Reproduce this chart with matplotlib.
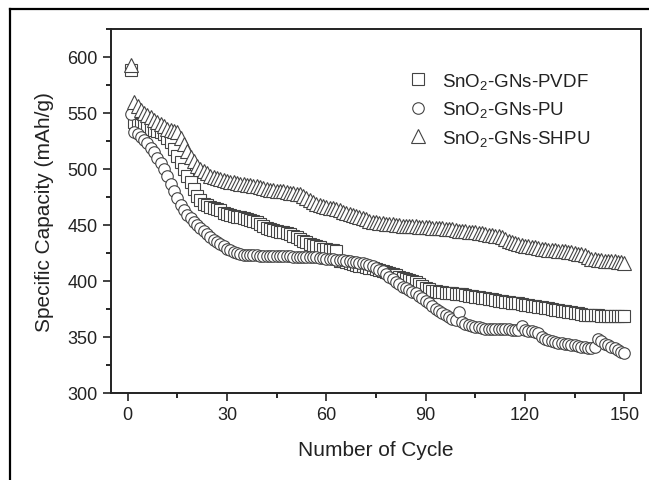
import matplotlib
matplotlib.use("Agg")
import matplotlib.pyplot as plt
from matplotlib.lines import Line2D
from matplotlib.ticker import MultipleLocator

plt.rcParams['font.family'] = ['Liberation Sans', 'DejaVu Sans']
plt.rcParams['mathtext.fontset'] = 'custom'
plt.rcParams['mathtext.rm'] = 'Liberation Sans'
plt.rcParams['mathtext.default'] = 'regular'

cycles = list(range(1, 151))

pvdf = [588, 542, 540, 539, 538, 537, 536, 535, 534, 533,
        531, 528, 524, 518, 512, 506, 500, 494, 488, 482,
        476, 472, 469, 467.5, 466.5, 465.5, 464.5, 463, 461, 459.5,
        458.5, 458, 457.5, 457, 456, 455, 454.5, 454, 453, 451,
        449, 447.5, 446.5, 445.5, 445, 444, 443.5, 443, 442, 440.5,
        439, 437.5, 436, 434.5, 433, 432, 431, 430, 429, 428.5,
        428, 427.5, 427, 418, 417.5, 417, 416, 415, 414, 413.5,
        413, 412.5, 412, 411.5, 411, 410, 409, 408, 407, 406,
        405, 404, 403, 402, 401, 400, 399, 397, 395.5, 394,
        392.5, 391.5, 391, 390.5, 390, 389.5, 389, 389, 388.5, 388,
        388, 387.5, 387, 386.5, 386, 385.5, 385, 384.5, 384, 383.5,
        383, 382.5, 382, 381.5, 381, 380.5, 380, 380, 379.5, 379,
        378.5, 378, 377.5, 377, 376.5, 376, 375.5, 375, 374.5, 374,
        373.5, 373, 372.5, 372, 371.5, 371, 370.5, 370, 370, 369.5,
        369.5, 369.5, 369, 369, 369, 369, 369, 369, 369, 369]

pu = [549, 533, 531, 529, 526, 523, 519, 515, 510, 505,
      500, 494, 487, 480, 474, 468, 463, 459, 456, 453,
      450, 447.5, 445, 442, 439.5, 437, 435, 433, 431, 429,
      427.5, 426, 425, 424, 423.5, 423, 423, 423, 423, 422.5,
      422.5, 422.5, 422, 422, 422, 422, 422, 422, 422, 421.5,
      421.5, 421.5, 421.5, 421, 421, 421, 421, 420.5, 420.5, 420,
      420, 419.5, 419, 419, 418.5, 418, 417.5, 417, 417, 416.5,
      416, 415.5, 414.5, 413, 411.5, 410, 408.5, 406.5, 404, 401.5,
      399, 397, 395, 393.5, 392, 390.5, 389, 387, 385, 382.5,
      380, 377.5, 375, 373, 371, 369.5, 368, 366.5, 365, 372,
      363, 362, 361, 360, 359, 358.5, 358, 357.5, 357.5, 357.5,
      357, 357, 357, 357, 357, 356.5, 356.5, 356, 360, 356,
      355.5, 355, 354.5, 354, 350, 348, 347, 346, 345.5, 345,
      344.5, 344, 343.5, 343, 342.5, 342, 341.5, 341, 340.5, 340,
      341, 348, 346, 344, 342.5, 341, 340, 338.5, 337, 335.5]

shpu = [593, 560, 556, 553, 550, 548, 546, 544, 542, 540,
        538, 536, 535, 534, 533, 528, 522, 516, 511, 507,
        503, 500, 498, 496, 494, 493, 492, 491, 490, 489,
        488.5, 488, 487.5, 487, 486.5, 486, 485.5, 485, 484.5, 484,
        483, 482, 481.5, 481, 480.5, 480, 480, 479.5, 479, 478.5,
        478, 477.5, 476, 474, 472, 470.5, 469, 468, 467, 466,
        465.5, 465, 464, 463, 462, 461, 460, 459, 458, 457,
        456, 455, 454, 453, 452.5, 452, 451.5, 451, 450.5, 450.5,
        450, 450, 449.5, 449.5, 449, 449, 449, 448.5, 448.5, 448,
        448, 447.5, 447.5, 447, 447, 446.5, 446, 446, 445.5, 445,
        445, 444.5, 444, 444, 443.5, 443, 442.5, 442, 441.5, 441,
        440.5, 440, 439, 437.5, 436, 435, 434, 433, 432, 431.5,
        431, 430.5, 430, 429.5, 429, 428.5, 428, 428, 427.5, 427,
        427, 426.5, 426, 425.5, 425, 424.5, 424, 423, 421.5, 420,
        419.5, 419, 418.5, 418, 418, 417.5, 417.5, 417, 417, 416]

labels = ['SnO$_2$-GNs-PVDF', 'SnO$_2$-GNs-PU', 'SnO$_2$-GNs-SHPU']
x_ticks = [0, 30, 60, 90, 120, 150]
y_ticks = [300, 350, 400, 450, 500, 550, 600]

W, H = 649, 481
fig = plt.figure(figsize=(W / 100, H / 100), dpi=100)
ax = fig.add_axes([111 / W, 1 - 394 / H, (641 - 111) / W, (394 - 30) / H])

edge = '#444444'
common = dict(linestyle='none', markerfacecolor='white', markeredgecolor=edge,
              markeredgewidth=0.8)
ax.plot(cycles, pvdf, marker='s', markersize=8, label=labels[0], **common)
ax.plot(cycles, pu, marker='o', markersize=8.3, label=labels[1], **common)
ax.plot(cycles, shpu, marker='^', markersize=9.5, label=labels[2], **common)

ax.set_xlim(-5, 155)
ax.set_ylim(300, 625)
ax.set_xticks(x_ticks)
ax.set_yticks(y_ticks)
ax.xaxis.set_minor_locator(MultipleLocator(15))
ax.yaxis.set_minor_locator(MultipleLocator(25))
ax.tick_params(which='major', direction='out', length=6, width=1.2, labelsize=13, colors='#222222')
ax.tick_params(which='minor', direction='out', length=3.5, width=1.2)
ax.tick_params(top=False, right=False, which='both')
for s in ax.spines.values():
    s.set_linewidth(1.4)
    s.set_color('#222222')

ax.set_xlabel('Number of Cycle', fontsize=15, color='#222222', labelpad=12)
ax.set_ylabel('Specific Capacity (mAh/g)', fontsize=15, color='#222222', labelpad=10)

leg = ax.legend(loc='upper left', bbox_to_anchor=(0.558, 0.885), frameon=False,
                fontsize=13.5, handletextpad=0.7, labelspacing=0.45,
                markerscale=1.0, handlelength=1.2, borderpad=0, borderaxespad=0)
for t in leg.get_texts():
    t.set_color('#222222')

fig.add_artist(Line2D([10 / W, 10 / W], [0, 1 - 10 / H], transform=fig.transFigure,
                      color='black', linewidth=1.6))
fig.add_artist(Line2D([10 / W, 1], [1 - 10 / H, 1 - 10 / H], transform=fig.transFigure,
                      color='black', linewidth=1.6))

fig.savefig('out.png', dpi=100)
